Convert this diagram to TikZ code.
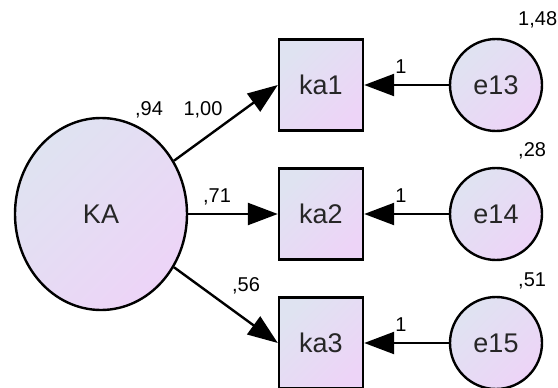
\documentclass[tikz,border=0pt]{standalone}
\usepackage{fontspec}
\setmainfont{Liberation Sans}
\usetikzlibrary{shapes.geometric}
\usetikzlibrary{arrows.meta,positioning}
\definecolor{shadeblue}{HTML}{DFE3F1}
\definecolor{shadepink}{HTML}{EDD4F7}
\tikzstyle{latent node}=[ellipse, draw, line width=2.4pt, top color=shadeblue, bottom color=shadepink, shading angle=45, minimum width=172pt, minimum height=192pt, text=black!85, font=\fontsize{27}{30}\selectfont]
\tikzstyle{item node}=[rectangle, draw, line width=2.4pt, top color=shadeblue, bottom color=shadepink, shading angle=45, minimum width=84pt, minimum height=91pt, text=black!85, font=\fontsize{27}{30}\selectfont]
\tikzstyle{err node}=[circle, draw, line width=2.4pt, top color=shadeblue, bottom color=shadepink, shading angle=45, minimum size=92pt, inner sep=0pt, text=black!85, font=\fontsize{27}{30}\selectfont]
\tikzstyle{est label}=[inner sep=0pt, font=\fontsize{20}{22}\selectfont]

\begin{document}
\begin{tikzpicture}[x=1pt, y=1pt, ->, >={Triangle[length=30pt,width=22pt]}, line width=2.4pt, node distance=129pt]
\useasboundingbox (0,0) rectangle (558,-388);
%
  \node[latent node] (KA) at (101,-214) {KA};
  \node[item node] (ka1) at (321,-85) {ka1};
  \node[item node] (ka2) [below of=ka1] {ka2};
  \node[item node] (ka3) [below of=ka2] {ka3};
  \node[err node] (e13) [right of=ka1, node distance=175pt] {e13};
  \node[err node] (e14) [below of=e13] {e14};
  \node[err node] (e15) [below of=e14] {e15};
%  variances
  \node[est label] (vKA) at (149,-110) {,94};
  \node[est label, anchor=west] (v13) at (517,-20) {1,48};
  \node[est label, anchor=west] (v14) at (517,-151) {,28};
  \node[est label, anchor=west] (v15) at (517,-281) {,51};
%  weights
  \node[est label] (w1) at (203,-110) {1,00};
  \node[est label] (w2) at (217,-197) {,71};
  \node[est label] (w3) at (246,-286) {,56};
  \node[est label] (f13) at (401,-67) {1};
  \node[est label] (f14) at (401,-196) {1};
  \node[est label] (f15) at (401,-325) {1};
 \path
	(KA) edge (ka1.west)
	(KA) edge (ka2)
	(KA) edge (ka3.west)
	(e13) edge (ka1)
	(e14) edge (ka2)
	(e15) edge (ka3);
%
\end{tikzpicture}
\end{document}
